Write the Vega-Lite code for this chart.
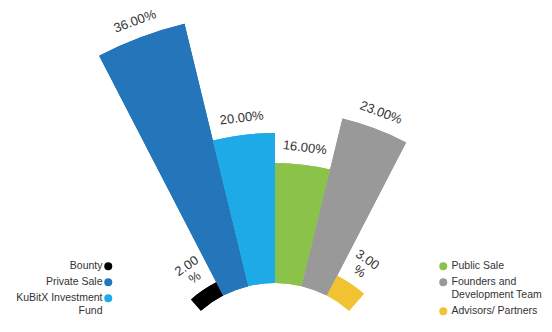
{
  "$schema": "https://vega.github.io/schema/vega-lite/v6.json",
  "width": 552,
  "height": 332,
  "padding": 0,
  "autosize": "none",
  "background": "white",
  "config": {"view": {"stroke": null}, "font": "Liberation Sans"},
  "data": {
    "values": [
      {"name": "Bounty", "value": 2, "label": "2.00\n%", "idx": 0, "share": 1},
      {"name": "Private Sale", "value": 36, "label": "36.00%", "idx": 1, "share": 1},
      {"name": "KuBitX Investment Fund", "value": 20, "label": "20.00%", "idx": 2, "share": 1},
      {"name": "Public Sale", "value": 16, "label": "16.00%", "idx": 3, "share": 1},
      {"name": "Founders and Development Team", "value": 23, "label": "23.00%", "idx": 4, "share": 1},
      {"name": "Advisors/ Partners", "value": 3, "label": "3.00\n%", "idx": 5, "share": 1}
    ]
  },
  "transform": [
    {"stack": "share", "groupby": [], "sort": [{"field": "idx", "order": "ascending"}], "as": ["t0", "t1"]}
  ],
  "encoding": {
    "theta": {"field": "t0", "type": "quantitative", "stack": null, "scale": {"domain": [0, 6], "range": [-0.7156, 0.7156]}},
    "radius": {"field": "value", "type": "quantitative", "scale": {"type": "linear", "domain": [0, 36], "range": [113, 383], "zero": false}}
  },
  "layer": [
    {
      "mark": {"type": "arc", "innerRadius": 113, "x": 275, "y": 396},
      "encoding": {
        "theta2": {"field": "t1"},
        "color": {
          "field": "name", "type": "nominal",
          "scale": {
            "domain": ["Bounty", "Private Sale", "KuBitX Investment Fund", "Public Sale", "Founders and Development Team", "Advisors/ Partners"],
            "range": ["#000000", "#2475ba", "#1eaae7", "#8bc34a", "#999999", "#f1c232"]
          },
          "legend": {
            "values": ["Bounty", "Private Sale", "KuBitX Investment Fund"],
            "orient": "none", "legendX": 103, "legendY": 261, "title": null, "padding": 0,
            "symbolType": "circle", "symbolSize": 64, "symbolStrokeWidth": 0,
            "labelAlign": "right", "labelOffset": -11, "labelFontSize": 10.5, "labelColor": "#333333",
            "labelFont": "Liberation Sans", "labelLimit": 300, "rowPadding": 5,
            "labelExpr": "datum.label == 'KuBitX Investment Fund' ? ['KuBitX Investment', 'Fund'] : datum.label",
            "labelBaseline": "top",
            "encode": {"labels": {"update": {"dy": {"value": -5}}}}
          }
        }
      }
    },
    {
      "mark": {"type": "arc", "innerRadius": 113, "x": 275, "y": 396},
      "encoding": {
        "theta2": {"field": "t1"},
        "fill": {
          "field": "name", "type": "nominal",
          "scale": {
            "domain": ["Public Sale", "Founders and Development Team", "Advisors/ Partners", "Bounty", "Private Sale", "KuBitX Investment Fund"],
            "range": ["#8bc34a", "#999999", "#f1c232", "#000000", "#2475ba", "#1eaae7"]
          },
          "legend": {
            "values": ["Public Sale", "Founders and Development Team", "Advisors/ Partners"],
            "orient": "none", "legendX": 438, "legendY": 261, "title": null, "padding": 0,
            "symbolType": "circle", "symbolSize": 64, "symbolStrokeWidth": 0,
            "labelAlign": "left", "labelOffset": 3, "labelFontSize": 10.5, "labelColor": "#333333",
            "labelFont": "Liberation Sans", "labelLimit": 300, "rowPadding": 5,
            "labelExpr": "datum.label == 'Founders and Development Team' ? ['Founders and', 'Development Team'] : datum.label",
            "labelBaseline": "top",
            "encode": {"labels": {"update": {"dy": {"value": -5}}}}
          }
        }
      }
    },
    {
      "mark": {"type": "text", "x": 275, "y": 396, "radiusOffset": 10, "thetaOffset": 0.11927, "baseline": "bottom", "align": "center", "fontSize": 13, "color": "#333333", "lineBreak": "\n", "lineHeight": 14},
      "encoding": {
        "text": {"condition": {"test": "datum.value >= 10", "field": "label"}, "value": ""},
        "angle": {"field": "idx", "type": "quantitative", "scale": {"domain": [0, 5], "range": [-34.17, 34.17]}, "legend": null}
      }
    },
    {
      "mark": {"type": "text", "x": 275, "y": 396, "radiusOffset": 22, "thetaOffset": 0.11927, "baseline": "bottom", "align": "center", "fontSize": 13, "color": "#333333", "lineBreak": "\n", "lineHeight": 14},
      "encoding": {
        "text": {"condition": {"test": "datum.value < 10", "field": "label"}, "value": ""},
        "angle": {"field": "idx", "type": "quantitative", "scale": {"domain": [0, 5], "range": [-34.17, 34.17]}, "legend": null}
      }
    }
  ]
}
